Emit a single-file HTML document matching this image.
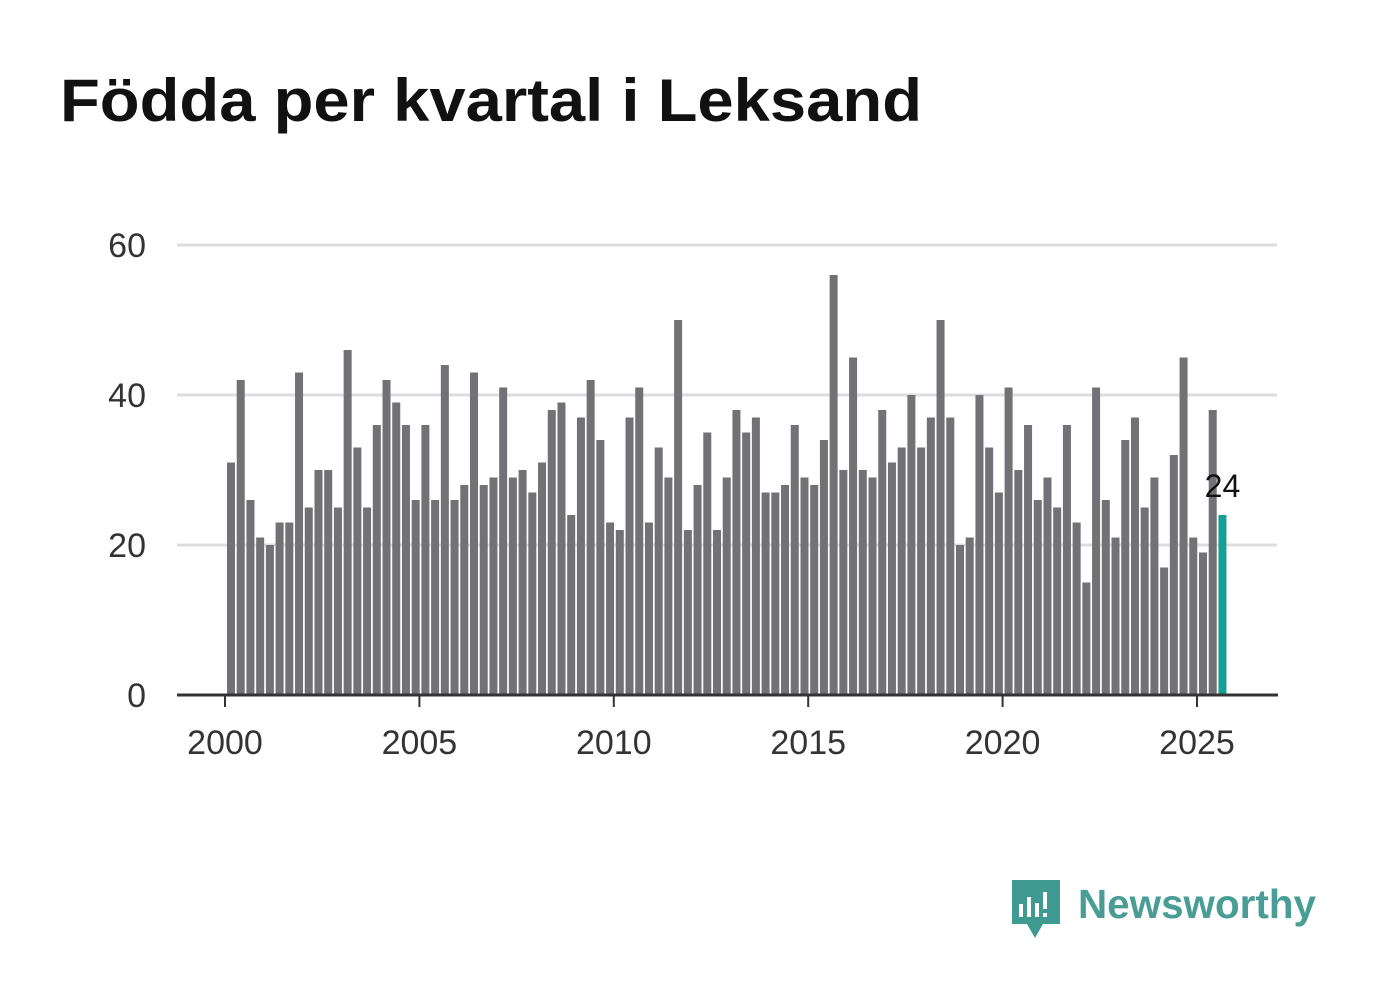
<!DOCTYPE html>
<html><head><meta charset="utf-8"><style>
body{margin:0;background:#fff;width:1382px;height:999px;overflow:hidden;font-family:"Liberation Sans",sans-serif}
</style></head><body>
<svg width="1382" height="999">
<text x="60" y="121" font-size="60" font-weight="bold" fill="#111" textLength="862" lengthAdjust="spacingAndGlyphs">Födda per kvartal i Leksand</text>
<g id="grid"></g><g id="bars"></g><g id="axis"></g>
<g>
<path d="M1012 880 h48 v44 h-17 l-8 14 l-8 -14 h-15 z" fill="#3f9a92"/>
<rect x="1019" y="904" width="4" height="13" fill="#fff"/><rect x="1027" y="897" width="4" height="20" fill="#fff"/><rect x="1035" y="903" width="4" height="14" fill="#fff"/><rect x="1043" y="892" width="4" height="17" fill="#fff"/><rect x="1043" y="913" width="4" height="4" fill="#fff"/>
<text x="1078" y="918" font-size="41" font-weight="bold" fill="#4a9d95" textLength="238" lengthAdjust="spacingAndGlyphs">Newsworthy</text>
</g>
</svg>
<script>
const years=[2000,2005,2010,2015,2020,2025];
const yTicks=[0,20,40,60];
const values=[31,42,26,21,20,23,23,43,25,30,30,25,46,33,25,36,42,39,36,26,36,26,44,26,28,43,28,29,41,29,30,27,31,38,39,24,37,42,34,23,22,37,41,23,33,29,50,22,28,35,22,29,38,35,37,27,27,28,36,29,28,34,56,30,45,30,29,38,31,33,40,33,37,50,37,20,21,40,33,27,41,30,36,26,29,25,36,23,15,41,26,21,34,37,25,29,17,32,45,21,19,38,24];
const startYear=2000;
const NS="http://www.w3.org/2000/svg";
const x=t=>225+(t-2000)*38.88;
const y=v=>695-v*7.5;
function mk(tag,attrs,parent){const e=document.createElementNS(NS,tag);for(const k in attrs)e.setAttribute(k,attrs[k]);document.getElementById(parent).appendChild(e);return e;}
yTicks.forEach(v=>{
  if(v>0){const l=mk('line',{x1:177,x2:1277,y1:y(v),y2:y(v),stroke:'#ddd','stroke-width':3},'grid');
  
  }
  const t=mk('text',{x:146,y:y(v)+12,'font-size':34,fill:'#333','text-anchor':'end'},'grid');t.textContent=v;
  
  
});
values.forEach((v,i)=>{
  const t=startYear+i/4;const last=i===values.length-1;
  const r=mk('rect',{x:x(t)+2,y:y(v),width:8,height:y(0)-y(v),fill:last?'#16a093':'#727176'},'bars');
  
  
  if(last){const lb=mk('text',{x:x(t)+6,y:y(v)-18,'font-size':32,fill:'#111','text-anchor':'middle'},'bars');lb.textContent=v;
  
  }
});
const ax=mk('line',{x1:177,x2:1278,y1:695,y2:695,stroke:'#333','stroke-width':3},'axis');


years.forEach(yr=>{
  const tk=mk('line',{x1:x(yr),x2:x(yr),y1:695,y2:707,stroke:'#333','stroke-width':2},'axis');
  
  
  const t=mk('text',{x:x(yr),y:754,'font-size':34,fill:'#333','text-anchor':'middle'},'axis');t.textContent=yr;
  
  
});
</script>
</body></html>
